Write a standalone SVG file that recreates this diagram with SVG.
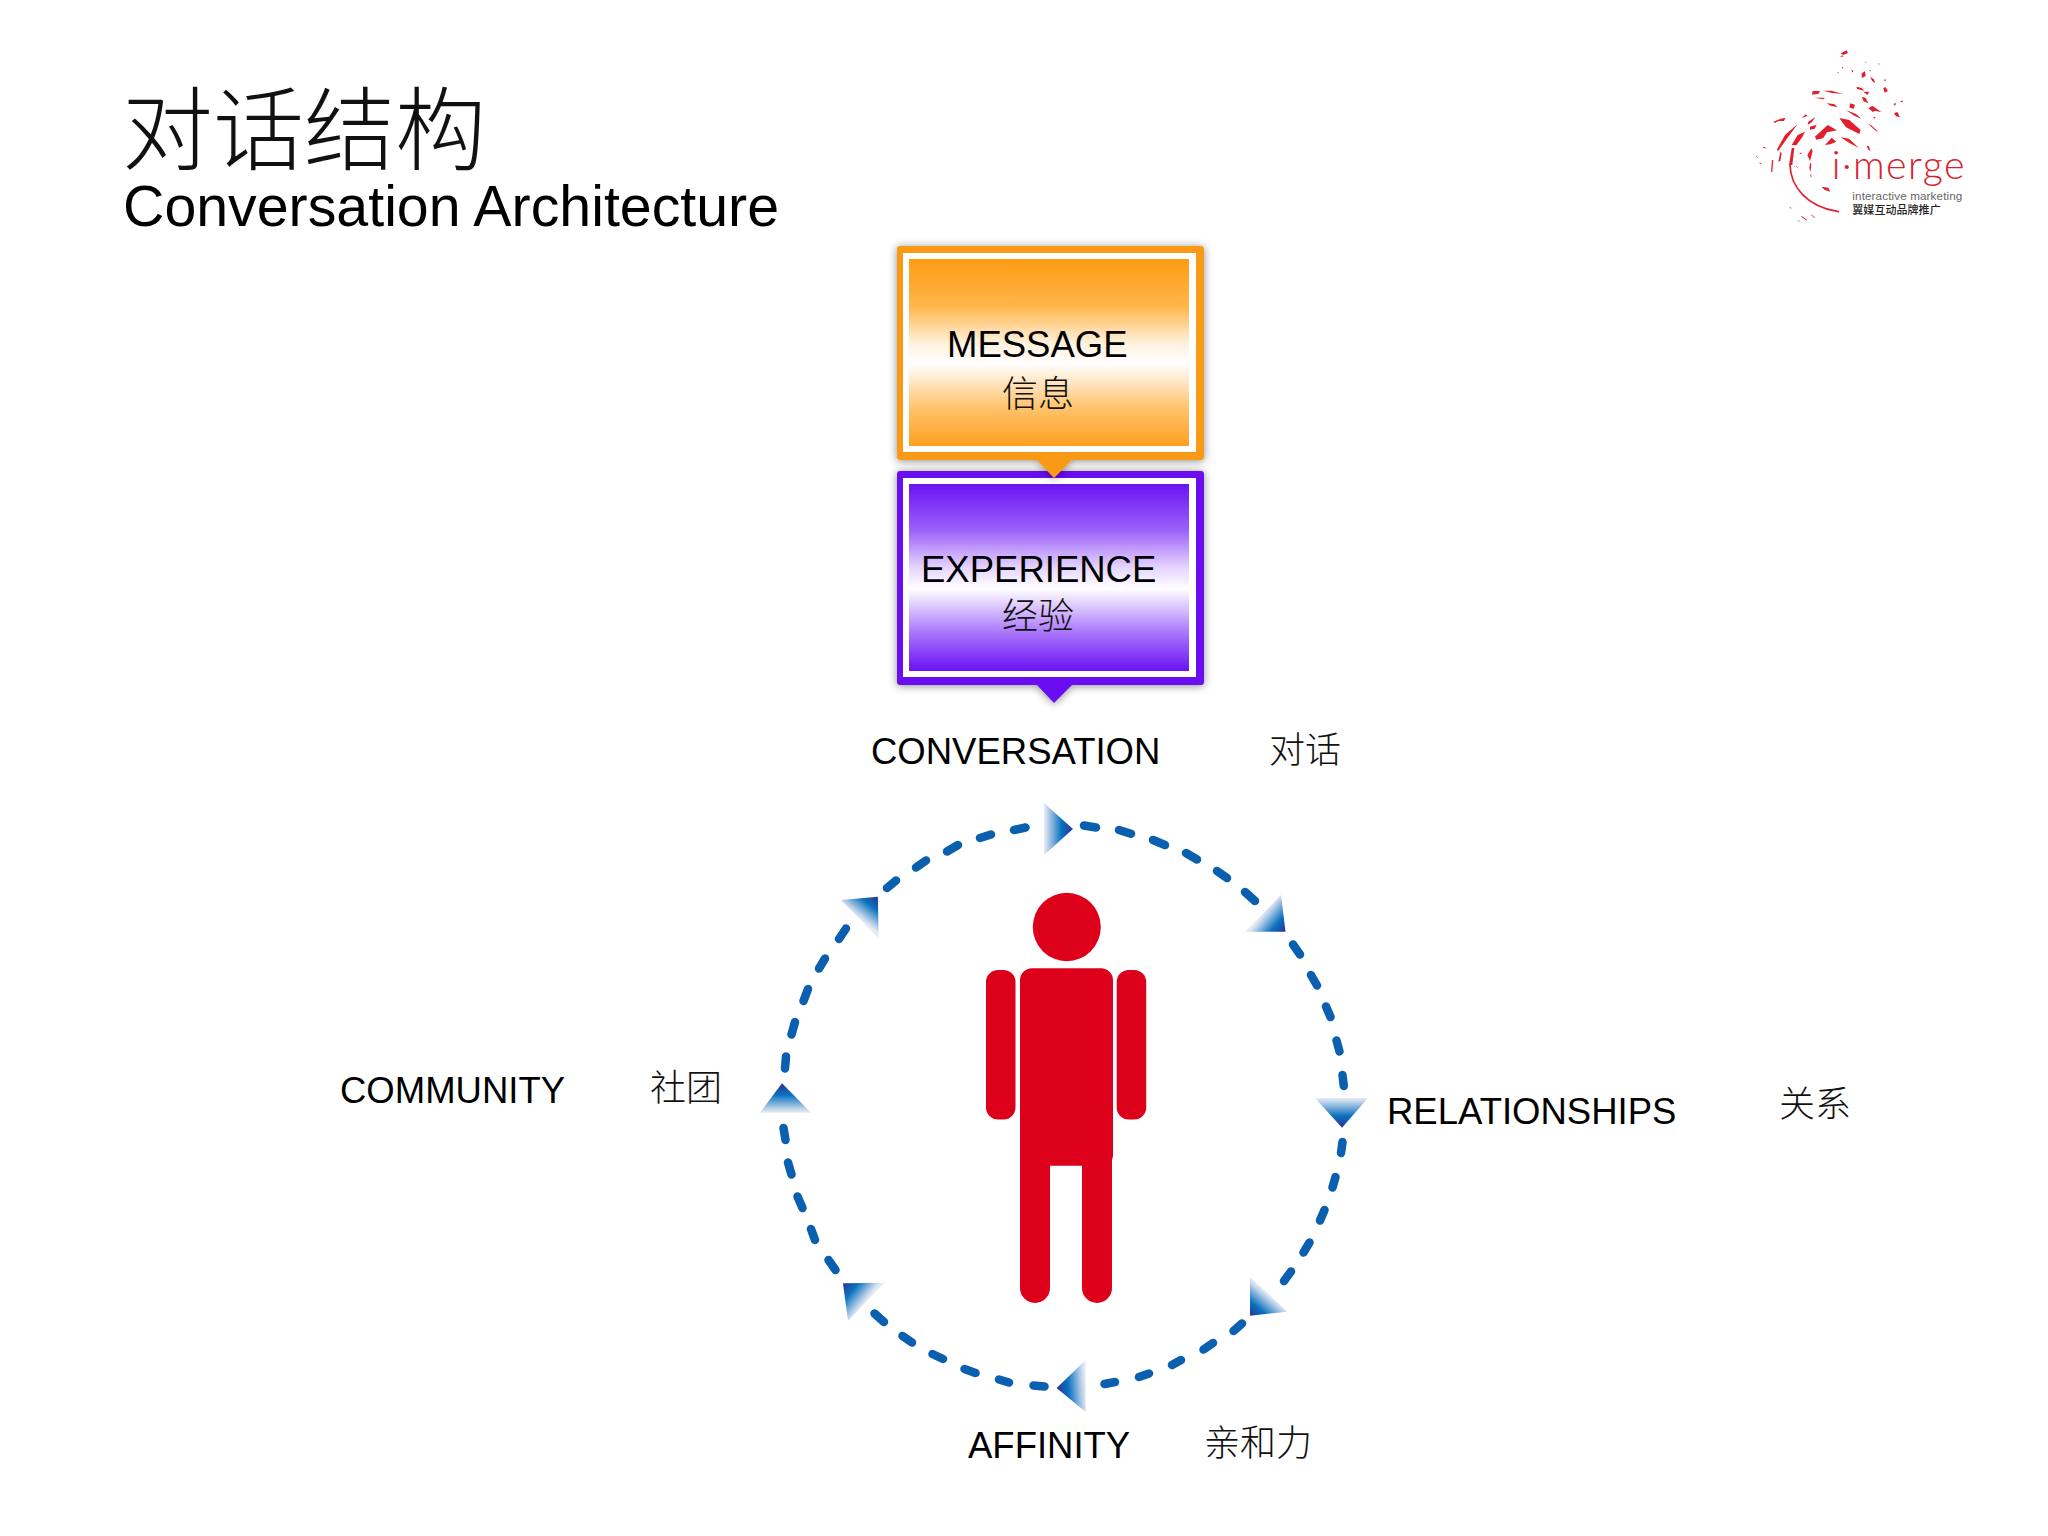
<svg xmlns="http://www.w3.org/2000/svg" width="2048" height="1536" viewBox="0 0 2048 1536">
<style>
.en{font-family:"Liberation Sans",Arial,sans-serif;fill:#000}
.cn{font-family:"Noto Sans CJK SC","Noto Sans",sans-serif;font-weight:300;fill:#111}
.lab{font-size:36.5px}
.cl{font-size:36px}
.body{fill:#dd001b}
.dash{fill:none;stroke:#0a5fae;stroke-width:8.5;stroke-linecap:round}
.spl{fill:#e2202c}
.spls{fill:none;stroke:#e2202c;stroke-linecap:round}
</style>
<defs>
<filter id="sh" x="-5%" y="-5%" width="110%" height="112%"><feDropShadow dx="0" dy="1" stdDeviation="4" flood-color="#000" flood-opacity=".45"/></filter>
<linearGradient id="og" x1="0" y1="0" x2="0" y2="1"><stop offset="0" stop-color="#ff9c12"/><stop offset=".25" stop-color="#ffb54a"/><stop offset=".45" stop-color="#fff1dc"/><stop offset=".56" stop-color="#fff"/><stop offset=".8" stop-color="#ffc26a"/><stop offset="1" stop-color="#ff9f20"/></linearGradient>
<linearGradient id="pg" x1="0" y1="0" x2="0" y2="1"><stop offset="0" stop-color="#6a12f2"/><stop offset=".25" stop-color="#9e62fa"/><stop offset=".45" stop-color="#e6d6fe"/><stop offset=".56" stop-color="#fff"/><stop offset=".8" stop-color="#a873fb"/><stop offset="1" stop-color="#6a12f2"/></linearGradient>
<linearGradient id="ar"><stop offset="0" stop-color="#2e3192"/><stop offset=".4" stop-color="#0a72c0"/><stop offset=".85" stop-color="#b8cfe8"/><stop offset="1" stop-color="#e6ecf5"/></linearGradient>
<linearGradient id="a1" href="#ar" gradientUnits="userSpaceOnUse" x1="1073" y1="829" x2="1044" y2="829"/>
<linearGradient id="a2" href="#ar" gradientUnits="userSpaceOnUse" x1="1285.5" y1="931.7" x2="1263" y2="913.4"/>
<linearGradient id="a3" href="#ar" gradientUnits="userSpaceOnUse" x1="1342" y1="1127.7" x2="1342" y2="1098"/>
<linearGradient id="a4" href="#ar" gradientUnits="userSpaceOnUse" x1="1250" y1="1315.7" x2="1268.6" y2="1294"/>
<linearGradient id="a5" href="#ar" gradientUnits="userSpaceOnUse" x1="1056.6" y1="1388" x2="1085.7" y2="1386"/>
<linearGradient id="a6" href="#ar" gradientUnits="userSpaceOnUse" x1="843" y1="1283.3" x2="866" y2="1301.7"/>
<linearGradient id="a7" href="#ar" gradientUnits="userSpaceOnUse" x1="785" y1="1083.3" x2="785" y2="1112.7"/>
<linearGradient id="a8" href="#ar" gradientUnits="userSpaceOnUse" x1="877.9" y1="896.7" x2="860" y2="919"/>
</defs>
<rect width="2048" height="1536" fill="#fff"/>

<g id="title">
<text x="122" y="163" class="cn" font-size="91">对话结构</text>
<text x="123" y="226" class="en" font-size="57.3">Conversation Architecture</text>
</g>

<g id="logo" transform="translate(1720,30) scale(.3333)">
<path class="spl" d="M362 70l18-9 4 8-14 6zM360 79l8-3 1 5zM435 95l4 1-1 4zM475 100l4 1-2 4zM365 110l5 2-2 4zM393 120l7 2-2 6zM352 125l4 2-2 4zM425 130l10-6 2 14-12 6zM447 120l4 0 1 6zM450 140l12 8 4 12-10-8zM490 150l8-2-2 6zM490 175l6-4 8 12-10 5zM410 170l15 4 8 8-22-5zM430 185l18 0-6 10zM425 200l12 4 8 16-14-6zM278 183l22 0-4 8-20 3zM310 182l24 0 35 10-33-3zM283 203l32 0-6 5zM320 220l22 2 12 10-22-5zM390 220l15 4-4 12-12-3zM445 235l12-8 28 20-20-5-6 4zM520 222l8-3-2 8zM540 215l8-4 0 6zM522 250l10-4 8 16-12-3zM378 240l30 12 16 14-20-8zM458 260l8 2-2 4zM358 264l30 6 34 30-4 12-40-20zM445 282l8 3 22 20-8-3zM362 322l25 4 30 28-30-16zM440 348l6 0 6 14-6-2zM160 275l20-8 16-4-4 10-16 0-12 6zM245 265l12-12 6 4zM265 275l22-14-12 16-12 8zM170 360l25-45 38-33-28 38-30 42zM215 345l18-30 22-10-8 16-18 25zM270 290l20-6-6 12-14 3zM285 320l38-35 28 16-30 6-12 18-20 4zM315 345l20-22 14 12-18 8zM207 405l8-50 8-2-6 52zM175 395l6-30 4 4-4 24zM153 425l3-35 4 0-3 36zM262 375l12-20 4 8-8 30zM268 415l2-15 4 0-2 25zM272 430l3 10-4 0zM305 470l20 3 6 12-18-6z"/>
<path class="spls" stroke-width="5" d="M210 405C212 470 260 530 355 545"/>
<path class="spls" stroke-width="3" d="M245 560l15 10M275 555l8 8M210 532l3 3M235 572l2 2M110 380l2 2M120 400l3 0M130 352l6 2M240 370l4 0M230 410l2 2"/>
<text x="335" y="446" font-family="Lato,'Liberation Sans',sans-serif" font-weight="300" font-size="118" letter-spacing="4.5" fill="#d8222e">i·merge</text>
<text x="397" y="510" font-family="'Liberation Sans',sans-serif" font-size="35" fill="#666" textLength="330">interactive marketing</text>
<text x="397" y="551" font-family="'Noto Sans CJK SC',sans-serif" font-weight="500" font-size="33" fill="#222" textLength="265">翼媒互动品牌推广</text>
</g>

<g id="experience">
<path filter="url(#sh)" fill="#6a10f0" d="M900 471H1201a3 3 0 0 1 3 3V682a3 3 0 0 1-3 3H1072L1054 703 1037 685H900a3 3 0 0 1-3-3V474a3 3 0 0 1 3-3z"/>
<rect x="903" y="478" width="293" height="199" fill="#fff"/>
<rect x="909" y="484" width="280" height="187" fill="url(#pg)"/>
<text x="921" y="582" class="en lab">EXPERIENCE</text>
<text x="1002" y="629" class="cn cl">经验</text>
</g>

<g id="message">
<path filter="url(#sh)" fill="#f99a18" d="M900 246H1201a3 3 0 0 1 3 3V457a3 3 0 0 1-3 3H1072L1054 478 1037 460H900a3 3 0 0 1-3-3V249a3 3 0 0 1 3-3z"/>
<rect x="903" y="253" width="293" height="199" fill="#fff"/>
<rect x="909" y="259" width="280" height="187" fill="url(#og)"/>
<text x="947" y="357" class="en lab">MESSAGE</text>
<text x="1002" y="407" class="cn cl">信息</text>
</g>

<g id="connectors">
<path class="dash" d="M1084 825.5L1096 827.5M1119 830L1131 833.8M1153 840L1165 845M1186 853L1197 859.5M1217 871L1227 878M1245 892L1255 901M1293 944.5L1300 954.5M1311 975L1317 985.5M1326 1006.5L1330.5 1017M1336.5 1040.5L1339.5 1051.5M1342.5 1075L1343.8 1086M1342.5 1142L1341 1153M1335.5 1177L1332.5 1187.5M1324.5 1210L1320 1220.5M1309.5 1242.5L1303.5 1252.5M1291 1271.5L1284 1281M1242 1323.5L1233.5 1331M1213 1343L1203.5 1349.5M1181 1360L1172 1365M1149 1373.5L1139 1377M1115 1382L1104.5 1384M1044.5 1386.5L1033.5 1385.5M1009 1382.5L999 1379.5M975.5 1373L964.5 1369M943 1359L932.5 1354M912 1342.5L902.5 1336M884 1322L874.5 1313.5M835.5 1270L828.5 1260M815 1240L811 1229M802.5 1208L797.5 1196.5M791.5 1174.5L788 1162.5M785.5 1140L783.5 1128M785 1068.5L786 1056.5M791.5 1034.5L795 1022M803.5 1001L808 989M819 968.5L825 958.5M839 939L846 928.5M887 888L896 880.5M916 867.5L926 860.5M947 851.5L958 845M980 838L991 834.5M1014 830L1025.5 827.5"/>
<path fill="url(#a1)" d="M1073 829L1044 803V855z"/>
<path fill="url(#a2)" d="M1285.5 931.7L1281 895 1245 931.7z"/>
<path fill="url(#a3)" d="M1342 1127.7L1315 1098H1368z"/>
<path fill="url(#a4)" d="M1250 1315.7V1276.7L1287.4 1311.7z"/>
<path fill="url(#a5)" d="M1056.6 1388L1085.7 1360V1412z"/>
<path fill="url(#a6)" d="M843 1283.3L884.4 1282.7 848 1320.7z"/>
<path fill="url(#a7)" d="M782 1083.3L760 1112.7H811z"/>
<path fill="url(#a8)" d="M877.9 896.7L841 900 878.6 938.3z"/>
</g>

<g id="person">
<ellipse class="body" cx="1066.8" cy="927" rx="34" ry="34.2"/>
<rect class="body" x="986" y="970" width="29.5" height="149.5" rx="12"/>
<rect class="body" x="1116.7" y="970" width="29.5" height="149.5" rx="12"/>
<path class="body" d="M1032 968.3H1101a12 12 0 0 1 12 12V1156L1112 1160V1288a15 15 0 0 1-30 0V1165.7H1050V1288a15 15 0 0 1-30 0V980.3a12 12 0 0 1 12-12z"/>
</g>

<g id="conversation"><text x="871" y="764" class="en lab">CONVERSATION</text><text x="1269" y="763" class="cn cl">对话</text></g>
<g id="relationships"><text x="1387" y="1124" class="en lab">RELATIONSHIPS</text><text x="1779" y="1117" class="cn cl">关系</text></g>
<g id="affinity"><text x="968" y="1458" class="en lab">AFFINITY</text><text x="1204" y="1456" class="cn cl">亲和力</text></g>
<g id="community"><text x="340" y="1103" class="en lab">COMMUNITY</text><text x="650" y="1101" class="cn cl">社团</text></g>
</svg>
